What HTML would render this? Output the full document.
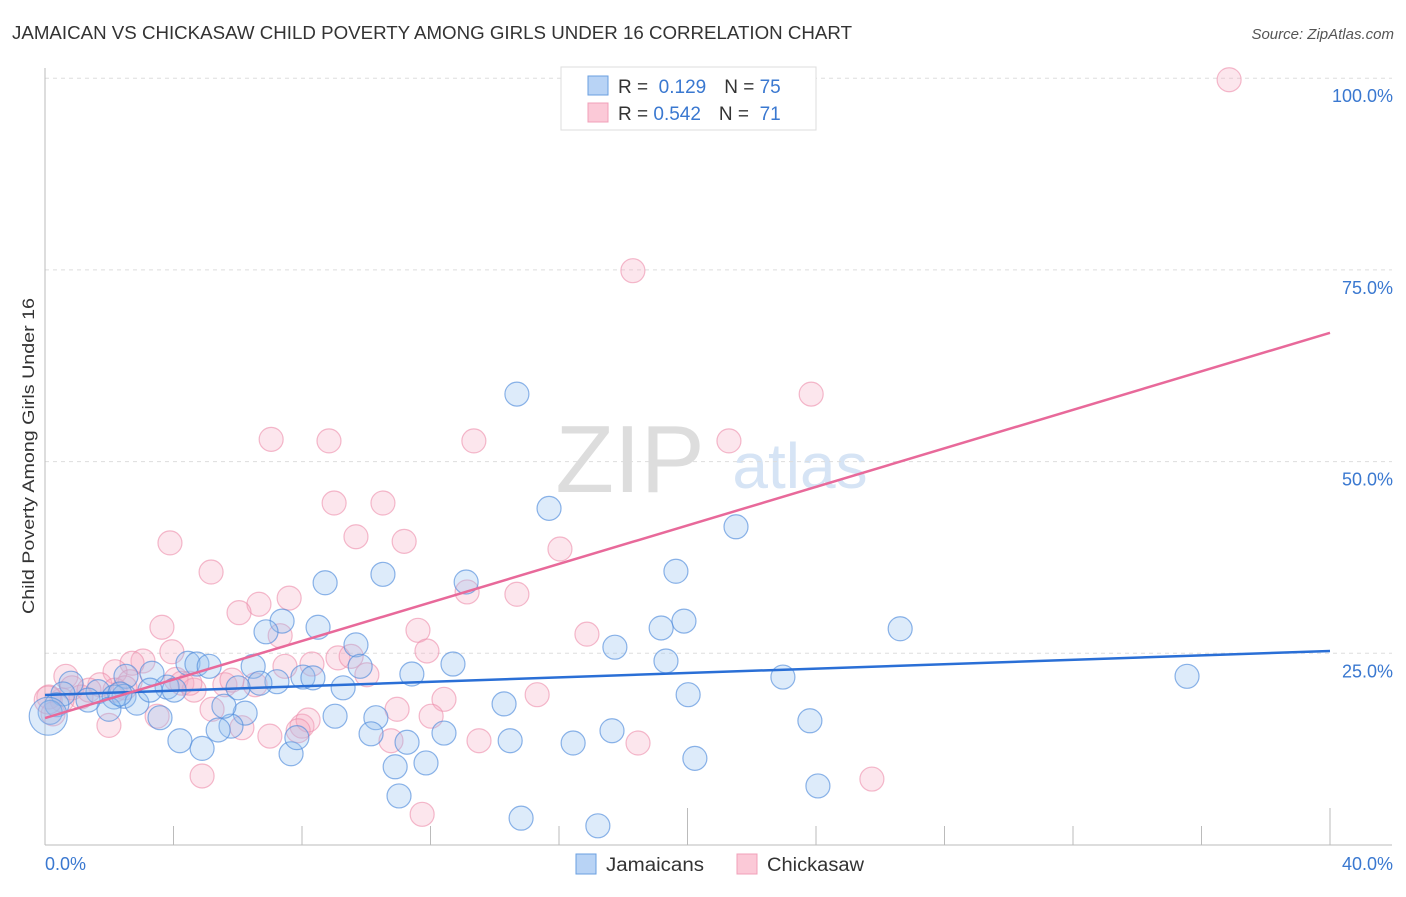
<!DOCTYPE html>
<html><head><meta charset="utf-8"><style>
body{margin:0;background:#fff;font-family:"Liberation Sans",sans-serif}
svg text{font-family:"Liberation Sans",sans-serif}
</style></head><body>
<svg width="1406" height="892" xmlns="http://www.w3.org/2000/svg">
<text x="12" y="39" font-size="18" fill="#333" textLength="840" lengthAdjust="spacingAndGlyphs">JAMAICAN VS CHICKASAW CHILD POVERTY AMONG GIRLS UNDER 16 CORRELATION CHART</text>
<text x="1394" y="39" font-size="15" fill="#555" font-style="italic" text-anchor="end">Source: ZipAtlas.com</text>
<text x="630" y="492" font-size="96" fill="#ddd" font-family="Liberation Serif" text-anchor="middle">ZIP</text>
<text x="800" y="488" font-size="64" fill="#d6e4f5" text-anchor="middle">atlas</text>
<g id="grid"></g>
<g id="axes"></g>
<g id="pts"></g>
<g id="lines"></g>
<text transform="translate(34,456) rotate(-90)" font-size="17" fill="#333" text-anchor="middle" textLength="316" lengthAdjust="spacingAndGlyphs">Child Poverty Among Girls Under 16</text>
<g>
<rect x="561" y="67" width="255" height="63" fill="#fff" stroke="#ddd"/>
<rect x="588" y="76" width="20" height="19" fill="#b8d3f5" stroke="#6a9fe0"/>
<rect x="588" y="103" width="20" height="19" fill="#fbc9d7" stroke="#f0a0b8"/>
<text x="618" y="93" font-size="19" fill="#333">R = <tspan fill="#3a78d0">&#160;0.129</tspan><tspan dx="18">N = </tspan><tspan fill="#3a78d0">75</tspan></text>
<text x="618" y="120" font-size="19" fill="#333">R = <tspan fill="#3a78d0">0.542</tspan><tspan dx="18">N = </tspan><tspan fill="#3a78d0">&#160;71</tspan></text>
</g>
<g>
<rect x="576" y="854" width="20" height="20" fill="#b8d3f5" stroke="#6a9fe0"/>
<text x="606" y="871" font-size="19" fill="#333" textLength="98" lengthAdjust="spacingAndGlyphs">Jamaicans</text>
<rect x="737" y="854" width="20" height="20" fill="#fbc9d7" stroke="#f0a0b8"/>
<text x="767" y="871" font-size="19" fill="#333" textLength="97" lengthAdjust="spacingAndGlyphs">Chickasaw</text>
</g>
</svg>
<script>
const blueX=[14.69,15.69,21.51,19.64,13.11,10.52,8.72,19.89,19.18,26.62,7.38,6.88,8.50,9.68,17.74,19.33,12.70,11.42,22.97,35.55,4.45,4.73,5.11,6.48,9.81,8.03,8.34,7.22,6.69,6.01,9.28,3.80,4.02,3.33,2.52,0.81,1.65,2.15,2.46,2.86,1.99,0.56,0.37,0.16,14.29,20.02,6.23,5.79,5.57,10.30,9.03,5.39,4.20,4.89,7.66,7.84,10.15,12.42,11.27,14.48,16.44,17.65,23.81,20.23,10.90,11.86,11.02,24.06,14.82,17.21,3.58,1.34,2.33,3.27,0.1];
const blueY=[58.8,43.9,41.5,35.7,34.3,35.3,34.2,29.2,28.3,28.2,29.2,27.8,28.4,26.1,25.8,24.0,23.6,22.3,21.9,22.0,23.7,23.6,23.3,23.3,23.3,21.9,21.8,21.3,21.1,20.5,20.5,20.6,20.2,22.4,22.0,21.1,20.0,19.3,19.4,18.5,17.7,19.7,18.3,17.3,18.4,19.6,17.2,15.5,18.1,16.6,16.8,15.0,13.6,12.6,11.9,14.0,14.5,14.6,13.4,13.6,13.3,14.9,16.2,11.3,10.2,10.7,6.4,7.7,3.5,2.5,16.6,18.9,19.7,20.2,16.8];
const blueR=[12,12,12,12,12,12,12,12,12,12,12,12,12,12,12,12,12,12,12,12,12,12,12,12,12,12,12,12,12,12,12,12,12,12,12,12,12,12,12,12,12,12,12,12,12,12,12,12,12,12,12,12,12,12,12,12,12,12,12,12,12,12,12,12,12,12,12,12,12,12,12,12,12,12,19];
const pinkX=[36.86,18.30,23.85,7.04,8.84,13.35,21.29,9.00,10.52,3.89,9.68,11.18,16.03,5.17,7.60,13.14,14.69,6.66,6.04,3.64,11.61,7.32,16.87,3.95,11.89,7.47,8.31,9.12,9.53,10.02,3.05,2.71,2.18,2.65,4.08,4.26,4.64,5.60,6.54,0.65,0.84,1.71,1.12,0.53,0.12,0.25,1.37,12.42,15.32,5.20,6.13,8.00,8.19,7.88,7.00,10.96,12.02,10.77,13.51,18.46,3.49,1.99,4.89,11.74,25.74,2.18,4.51,2.49,5.82,0.1];
const pinkY=[99.8,74.9,58.8,52.9,52.7,52.7,52.7,44.6,44.6,39.4,40.2,39.6,38.6,35.6,32.2,33.0,32.7,31.4,30.3,28.4,28.0,27.3,27.5,25.2,25.3,23.3,23.6,24.4,24.6,22.2,24.0,23.7,22.6,21.3,21.6,21.1,20.2,20.9,20.9,22.0,20.5,20.9,19.3,18.9,19.3,17.1,20.2,19.0,19.6,17.7,15.3,15.5,16.3,14.9,14.2,17.7,16.8,13.6,13.6,13.3,16.8,15.6,9.0,4.0,8.6,20.2,21.1,20.5,21.5,18.9];
const trendBlue=[19.56,25.3];
const trendPink=[16.56,66.8];
const xTicks=[0,4,8,12,16,20,24,28,32,36,40];
const yTicks=[25,50,75,100];
const yTickLabels=["25.0%","50.0%","75.0%","100.0%"];
const xTickLabels=["0.0%","40.0%"];

const NS="http://www.w3.org/2000/svg";
const sx=v=>45+v*(1285/40);
const sy=v=>845-v*(191.7/25);
function mk(tag,attrs,parent){const e=document.createElementNS(NS,tag);for(const k in attrs)e.setAttribute(k,attrs[k]);parent.appendChild(e);return e;}
const grid=document.getElementById('grid'),axes=document.getElementById('axes'),pts=document.getElementById('pts'),lines=document.getElementById('lines');
yTicks.forEach((t,i)=>{
  const l=mk('line',{x1:45,x2:1392,y1:sy(t),y2:sy(t),stroke:'#ddd','stroke-dasharray':'4,4'},grid);
  
  
  const tx=mk('text',{x:1393,y:sy(t)+24,'font-size':18,fill:'#3a78d0','text-anchor':'end'},axes);
  tx.textContent=yTickLabels[i];
  
  
});
const ax=mk('line',{x1:45,x2:45,y1:68,y2:845,stroke:'#bbb'},axes);


const bx=mk('line',{x1:45,x2:1392,y1:845,y2:845,stroke:'#bbb'},axes);


xTicks.forEach((t,i)=>{
  const tall=(t===20||t===40);
  const tk=mk('line',{x1:sx(t),x2:sx(t),y1:tall?808:826,y2:845,stroke:'#bbb'},axes);
  
  
});
[[0,'start',45],[40,'end',1393]].forEach((d,i)=>{
  const tx=mk('text',{x:d[2],y:870,'font-size':18,fill:'#3a78d0','text-anchor':d[1]},axes);
  tx.textContent=xTickLabels[i];
  
  
});
pinkX.forEach((x,i)=>{
  const c=mk('circle',{cx:sx(x),cy:sy(pinkY[i]),r:i===69?14:12,fill:'rgba(246,172,196,0.3)',stroke:'rgba(236,140,170,0.6)','stroke-width':1.2},pts);
  
  
});
blueX.forEach((x,i)=>{
  const c=mk('circle',{cx:sx(x),cy:sy(blueY[i]),r:blueR[i],fill:'rgba(150,192,238,0.32)',stroke:'rgba(80,140,220,0.65)','stroke-width':1.2},pts);
  
  
});
const lb=mk('line',{x1:sx(0),y1:sy(trendBlue[0]),x2:sx(40),y2:sy(trendBlue[1]),stroke:'#2a6fd6','stroke-width':2.5},lines);


const lp=mk('line',{x1:sx(0),y1:sy(trendPink[0]),x2:sx(40),y2:sy(trendPink[1]),stroke:'#e8699a','stroke-width':2.5},lines);


</script>
</body></html>
